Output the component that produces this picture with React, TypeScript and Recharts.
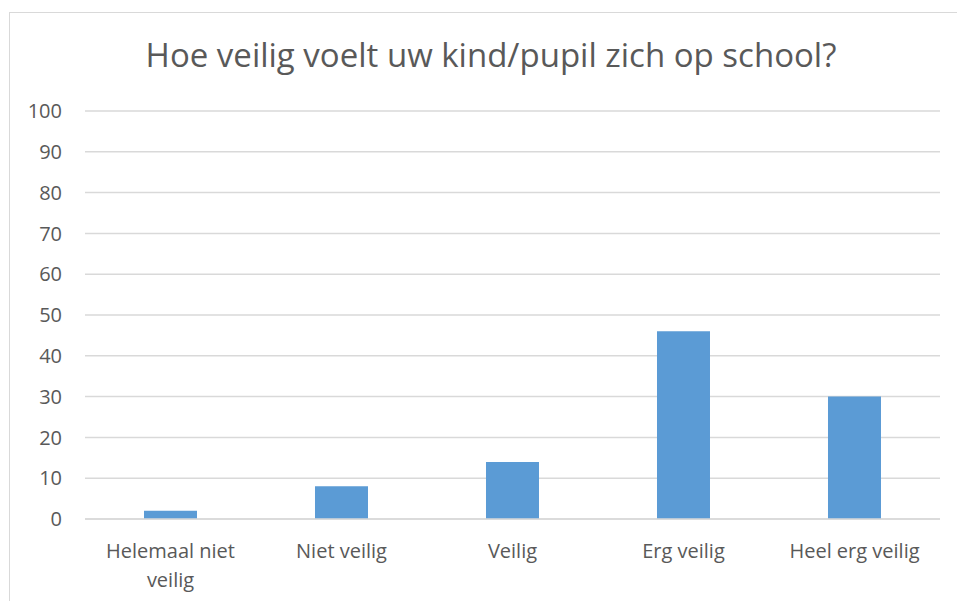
import { Bar, BarChart, CartesianGrid, XAxis, YAxis } from "recharts";

const categories = [
  "Helemaal niet veilig",
  "Niet veilig",
  "Veilig",
  "Erg veilig",
  "Heel erg veilig",
];
const percentages = [2, 8, 14, 46, 30];
const yTicks = [0, 10, 20, 30, 40, 50, 60, 70, 80, 90, 100];

const rows = categories.map((name, i) => ({ name, value: percentages[i] }));

const FONT = "'Open Sans', sans-serif";
const TEXT_COLOR = "#595959";
const GRID_COLOR = "#d9d9d9";
const FONT_SIZE = 20;

// Long category labels go onto two lines, the last word below, like Excel does.
function splitLabel(label: string): string[] {
  if (label.length <= 16) return [label];
  const cut = label.lastIndexOf(" ");
  return [label.slice(0, cut), label.slice(cut + 1)];
}

function CategoryTick(props: any) {
  const { x, y, payload } = props;
  const lines = splitLabel(String(payload.value));
  return (
    <text
      x={x}
      y={y}
      textAnchor="middle"
      fill={TEXT_COLOR}
      fontSize={FONT_SIZE}
      fontFamily={FONT}
    >
      {lines.map((line, i) => (
        <tspan key={i} x={x} dy={i === 0 ? "0.9em" : 29}>
          {line}
        </tspan>
      ))}
    </text>
  );
}

export default function App() {
  return (
    <div
      style={{
        position: "fixed",
        left: 0,
        top: 0,
        width: 957,
        height: 601,
        overflow: "hidden",
        background: "#fff",
      }}
    >
      <div
        style={{
          position: "absolute",
          left: 9,
          top: 12,
          width: 964,
          height: 620,
          border: `1px solid ${GRID_COLOR}`,
          boxSizing: "border-box",
        }}
      />
      <div
        style={{
          position: "absolute",
          left: 9,
          width: 964,
          top: 32,
          textAlign: "center",
          fontFamily: FONT,
          fontSize: 33,
          color: TEXT_COLOR,
          lineHeight: "46px",
        }}
      >
        Hoe veilig voelt uw kind/pupil zich op school?
      </div>
      <div style={{ position: "absolute", left: 0, top: 0 }}>
        <BarChart
          width={957}
          height={601}
          data={rows}
          margin={{ top: 111, right: 17, left: 0, bottom: 0 }}
          barCategoryGap="34.5%"
        >
          <CartesianGrid stroke={GRID_COLOR} strokeWidth={1.5} vertical={false} />
          <XAxis
            dataKey="name"
            axisLine={{ stroke: GRID_COLOR, strokeWidth: 1.5 }}
            tickLine={false}
            tickMargin={15}
            interval={0}
            tick={<CategoryTick />}
            height={82}
          />
          <YAxis
            domain={[0, 100]}
            ticks={yTicks}
            width={85}
            axisLine={false}
            tickLine={false}
            tickSize={0}
            tickMargin={23}
            tick={{ fontSize: FONT_SIZE, fill: TEXT_COLOR, fontFamily: FONT }}
          />
          <Bar dataKey="value" fill="#5b9bd5" isAnimationActive={false} />
        </BarChart>
      </div>
    </div>
  );
}
